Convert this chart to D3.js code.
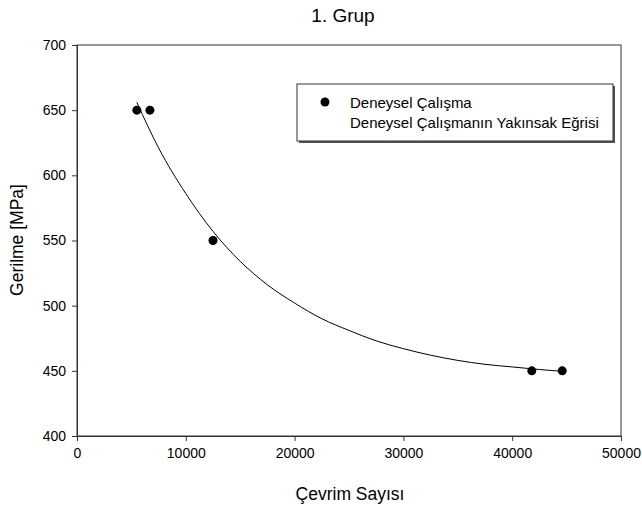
<!DOCTYPE html>
<html>
<head>
<meta charset="utf-8">
<script src="https://cdn.jsdelivr.net/npm/d3@7"></script>
<style>
html, body { margin: 0; padding: 0; background: #fff; overflow: hidden; }
svg { display: block; }
text { font-family: "Liberation Sans", Arial, sans-serif; fill: #000; }
</style>
</head>
<body>
<svg id="chart"></svg>
<script>
const svg_width = 642;
const svg_height = 511;

// deneysel noktalar
const cycles = [5500, 6700, 12500, 41800, 44600];
const stress = [650, 650, 550, 450, 450];

// yakinsak egri (resimden okunan noktalar)
const curveX = [5500, 7500, 10000, 12500, 15000, 17500, 20000, 22500, 25000, 27500, 30000, 32500, 35000, 37500, 40000, 42500, 44600];
const curveY = [656, 621, 586, 557, 534, 516, 502, 490, 481, 473, 467, 462, 458, 455, 453, 451, 449.6];

const xTicks = [0, 10000, 20000, 30000, 40000, 50000];
const yTicks = [400, 450, 500, 550, 600, 650, 700];

const legendLabels = ['Deneysel Çalışma', 'Deneysel Çalışmanın Yakınsak Eğrisi'];

const margin = {top: 45, right: 21, bottom: 75, left: 77};
const innerWidth = svg_width - margin.left - margin.right;
const innerHeight = svg_height - margin.top - margin.bottom;

const svg = d3.select('#chart').attr('width', svg_width).attr('height', svg_height);
const g = svg.append('g').attr('transform', `translate(${margin.left}, ${margin.top})`);

const x = d3.scaleLinear().domain([0, 50000]).range([0, innerWidth]);
const y = d3.scaleLinear().domain([400, 700]).range([innerHeight, 0]);

// cerceve
g.append('rect')
  .attr('width', innerWidth).attr('height', innerHeight)
  .attr('fill', 'none').attr('stroke', '#333').attr('stroke-width', 1);

const xAxis = g.append('g').attr('transform', `translate(0, ${innerHeight})`)
  .call(d3.axisBottom(x).tickValues(xTicks).tickSize(5).tickPadding(7).tickFormat(d3.format('d')));
const yAxis = g.append('g')
  .call(d3.axisLeft(y).tickValues(yTicks).tickSize(5).tickPadding(6));

[xAxis, yAxis].forEach(a => {
  a.select('.domain').attr('stroke', '#333');
  a.selectAll('.tick line').attr('stroke', '#333');
  a.selectAll('.tick text').attr('font-size', '14px').attr('font-family', '"Liberation Sans", Arial, sans-serif');
});

// egri
const line = d3.line().x(d => x(d[0])).y(d => y(d[1])).curve(d3.curveMonotoneX);
g.append('path')
  .datum(curveX.map((d, i) => [d, curveY[i]]))
  .attr('d', line)
  .attr('fill', 'none').attr('stroke', '#000').attr('stroke-width', 1);

// noktalar
g.selectAll('.pt').data(cycles).enter().append('circle')
  .attr('class', 'pt')
  .attr('cx', d => x(d))
  .attr('cy', (d, i) => y(stress[i]))
  .attr('r', 4.5)
  .attr('fill', '#000');

// basliklar
svg.append('text').text('1. Grup')
  .attr('x', 343).attr('y', 22).attr('text-anchor', 'middle').attr('font-size', '19px');
svg.append('text').text('Çevrim Sayısı')
  .attr('x', 350).attr('y', 500).attr('text-anchor', 'middle').attr('font-size', '17.5px');
svg.append('text').text('Gerilme [MPa]')
  .attr('transform', `translate(23, 240) rotate(-90)`)
  .attr('text-anchor', 'middle').attr('font-size', '17.5px');

// lejant
const lg = svg.append('g').attr('transform', 'translate(297, 84)');
lg.append('rect').attr('x', 2).attr('y', 2).attr('width', 316).attr('height', 57).attr('fill', '#555');
lg.append('rect').attr('width', 316).attr('height', 57).attr('fill', '#fff').attr('stroke', '#333').attr('stroke-width', 1);
lg.append('circle').attr('cx', 28).attr('cy', 18).attr('r', 4.5).attr('fill', '#000');
lg.selectAll('.lt').data(legendLabels).enter().append('text')
  .attr('class', 'lt')
  .attr('x', 53)
  .attr('y', (d, i) => 24 + i * 20)
  .attr('font-size', '15px')
  .text(d => d);
</script>
</body>
</html>
